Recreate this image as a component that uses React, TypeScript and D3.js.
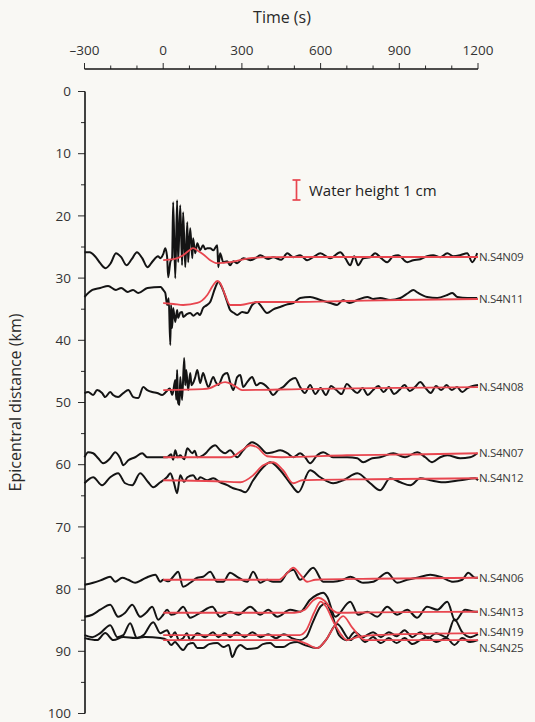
import React from 'react';
import * as d3 from 'd3';

// ---- data ----
const stations = ['N.S4N09', 'N.S4N11', 'N.S4N08', 'N.S4N07', 'N.S4N12', 'N.S4N06', 'N.S4N13', 'N.S4N19', 'N.S4N25'];
const distancesKm = [26.8, 34.0, 48.0, 58.8, 62.5, 78.5, 83.8, 87.4, 88.2];
const timeTickLabels = [-300, 0, 300, 600, 900, 1200];
const distanceTickLabels = [0, 10, 20, 30, 40, 50, 60, 70, 80, 90, 100];
const legendHeightMm = 10;

// observed water height [time s, mm]
const obsN09: [number, number][] = [[-300,3],[-280,3],[-260,1],[-240,-2.5],[-220,-5],[-200,-2.5],[-180,2.5],[-160,0.5],[-140,-3.5],[-120,-0.5],[-100,3],[-80,0],[-60,-4.5],[-40,-1.5],[-20,1],[-11,0],[0,2],[8,5],[15,0.5],[19,-9.5],[27,-2],[34,0],[38,28],[46,-10],[53,29],[57,-2],[65,26.5],[72,-3.5],[76,23],[84,-4.5],[92,18],[95,-2],[103,15],[111,0],[114,10],[122,2.5],[130,7.5],[141,4],[152,6.5],[160,4.5],[168,5],[179,5],[191,4],[206,6.5],[210,-4.5],[217,2.5],[229,-2],[244,-1.5],[255,-3.5],[267,-1.5],[282,-2.5],[305,0],[332,-1],[358,0.5],[370,1.5],[400,-0.4],[419,0.5],[450,-0.8],[473,2.5],[496,0.5],[522,1.5],[549,-1],[575,0.8],[599,2.5],[637,0],[675,3],[694,0],[713,-3.5],[728,1],[743,-3.5],[763,0],[789,0.5],[808,2.5],[831,0],[854,-2],[877,1],[896,1.5],[930,-2],[953,-1],[980,-0.5],[1006,1],[1029,1.5],[1056,0.5],[1083,2.5],[1106,1],[1132,1.5],[1159,2.5],[1178,-2],[1197,2.5]];
const obsN11: [number, number][] = [[-300,3],[-270,6.5],[-240,7.5],[-210,8.5],[-180,6.5],[-160,7.5],[-135,5.5],[-115,6.5],[-95,5],[-60,7.5],[-10,8],[0,6.5],[8,5],[15,-1],[21,2.4],[27,-21],[30,-1],[34,-12.5],[38,-2.5],[46,-9.5],[53,-3.5],[57,-7.5],[65,-4.8],[72,-4.5],[76,-7],[90,-5.6],[103,-5],[115,-6.4],[130,-5],[140,-6],[152,-2.5],[165,-1.2],[179,0.5],[198,7.5],[210,10.5],[225,7.5],[244,0.5],[255,-3.5],[270,-5],[282,-6],[301,-4.5],[320,-5],[339,-1],[358,0.5],[370,-1],[396,-5],[420,-3.2],[446,-2],[470,-0.8],[496,0],[522,2.5],[560,3],[599,1.5],[637,0],[663,-1],[686,1.5],[710,0],[740,1.5],[778,3],[800,2],[827,2.5],[865,1.5],[904,2.5],[934,5],[953,6.5],[972,5],[1006,3],[1045,2.5],[1083,4],[1102,5],[1121,3],[1159,2.5],[1197,2.5]];
const obsN08: [number, number][] = [[-300,-1.5],[-286,-1],[-267,-2.5],[-252,0],[-233,-1.5],[-221,-3.5],[-202,-1],[-191,-2.5],[-172,-3.5],[-152,-1.5],[-133,0],[-114,-3.5],[-95,-4],[-76,1.5],[-61,0],[-42,-1],[-23,-1.5],[-4,-2.5],[10,-1],[25,0.8],[35,-2.4],[46,5],[50,-4.8],[53,10],[57,-6.5],[62,-7.5],[65,6.5],[72,-5],[80,16],[84,2.4],[88,10],[95,0],[103,8.5],[108,2.4],[114,3.5],[122,6.4],[130,10],[141,3.5],[152,8.5],[162,4.8],[172,1.5],[191,6.5],[200,4],[210,2.5],[229,7.5],[244,8.5],[255,4],[267,0],[282,6.5],[294,7.5],[305,1.5],[320,4],[339,6.5],[355,2.4],[370,3.5],[400,1],[419,-2.5],[438,0],[457,1.5],[484,5],[503,6],[522,1.5],[540,-1.5],[560,2.5],[580,-2],[600,1],[620,-2.5],[640,2],[660,0],[680,-2],[700,3],[720,0.5],[740,-1.5],[760,1],[780,-2.5],[800,0],[820,2],[840,-1],[860,1.5],[880,-2],[900,0],[920,2.5],[940,-0.5],[960,1.5],[980,4],[1000,1],[1020,-1.5],[1040,2],[1060,0],[1080,2.5],[1100,0],[1120,1.5],[1140,-1],[1160,1],[1180,2],[1200,2.5]];
const obsN07: [number, number][] = [[-300,0],[-286,2.5],[-267,2],[-248,-0.5],[-229,-3],[-202,-0.5],[-183,2.5],[-164,-0.5],[-152,-4],[-133,-1.5],[-107,0],[-80,2],[-61,0],[-23,0],[0,0],[15,0],[30,1.5],[38,-1.2],[46,3.5],[55,0],[65,1],[80,-1],[92,4.5],[111,2],[120,3.2],[130,0],[152,1],[165,2.4],[179,4.5],[198,6],[217,3.5],[236,2],[255,3.5],[282,0],[305,3.5],[339,7.5],[362,6],[396,2],[419,2.5],[446,3.5],[473,2],[496,0],[522,2],[541,0],[560,-3],[587,1],[610,2.5],[648,0],[701,0],[740,-0.5],[762,-2.5],[797,-0.5],[827,0],[877,2],[922,0],[968,2.5],[999,0],[1025,-2.5],[1056,0],[1083,1],[1132,-0.5],[1170,0],[1197,2]];
const obsN12: [number, number][] = [[-300,-1.5],[-267,1.5],[-233,-2.5],[-202,1.5],[-172,3.5],[-145,-1.5],[-118,-2.5],[-88,3.5],[-57,-1],[-38,-3.5],[-11,-1],[0,0],[15,1.6],[27,3.5],[40,-0.8],[53,-6.5],[65,2.5],[80,-0.8],[92,1.5],[114,2.5],[130,0],[141,1.5],[168,0],[191,1],[217,-1],[244,-2.4],[267,-4],[294,-5],[313,-6],[343,0],[381,6.5],[408,9],[446,5],[484,-1.5],[515,-6],[560,5],[599,1.5],[648,-1.5],[686,0],[740,3.5],[789,-1.5],[827,-5],[865,1],[904,-1],[942,-2.5],[980,1],[1018,0],[1067,-1],[1132,0],[1189,1],[1200,0]];
const obsN06: [number, number][] = [[-300,-2.5],[-267,-1.5],[-233,0],[-202,1.5],[-183,-1],[-156,1],[-133,0],[-107,-1.5],[-80,0],[-57,1.5],[-30,2.5],[-11,-1],[0,0],[20,-0.8],[38,1.5],[57,4],[76,-3.5],[103,-1.5],[130,1],[152,1.5],[179,4],[206,-1],[229,-1],[255,3.5],[282,1.5],[320,-1],[343,4],[370,-1.5],[396,0],[419,-1],[446,-1],[473,3.5],[496,5],[522,0],[572,6],[610,-1],[648,-1],[686,0],[713,1.5],[762,-1.5],[801,-1],[854,3.5],[892,-1.5],[930,0],[968,1],[1018,2.5],[1056,1.5],[1106,-1],[1140,0],[1163,3.5],[1189,1],[1200,1]];
const obsN13: [number, number][] = [[-300,-2],[-270,-1],[-240,1.5],[-202,4],[-172,-2],[-145,0],[-118,4],[-88,-2],[-65,0],[-42,3],[-19,-3.5],[0,-1],[15,1.5],[30,-1],[53,0],[76,3],[103,-2.5],[141,0],[187,3],[217,-2],[255,0.5],[286,-1],[332,3],[370,-1],[400,1.5],[435,-2],[484,1.5],[522,0.5],[560,6.5],[587,9],[610,10],[625,8],[656,-2],[713,5.5],[743,-1],[778,0.5],[816,-2],[854,3],[892,-1],[930,1.5],[968,-2.5],[1006,3],[1045,1.5],[1083,5.5],[1113,-4],[1151,1.5],[1189,0.5],[1200,0.5]];
const obsN19: [number, number][] = [[-300,0],[-270,-1],[-240,1],[-202,5],[-175,-1],[-152,0],[-126,6],[-100,-1.5],[-75,0],[-38,6.5],[-11,1],[15,2.5],[30,-1],[45,1.5],[60,-2.5],[76,-1.5],[90,1],[103,-2.5],[130,1],[160,-1],[190,1.5],[210,-1],[235,1],[255,-1],[280,1.5],[310,-1],[340,1.5],[370,-1],[400,0.5],[430,-1.5],[460,0.5],[490,-1.5],[520,-2.5],[545,-1],[570,6.4],[600,14.4],[620,16],[645,9.6],[670,0],[700,-2.5],[730,1.6],[760,-1],[800,1.5],[830,-1],[860,1.5],[890,-0.5],[920,2.5],[950,-1],[980,1.5],[1010,-1.5],[1040,1],[1080,-1],[1110,8],[1140,1.5],[1170,-1],[1200,0.5]];
const obsN25: [number, number][] = [[-300,1],[-252,0],[-221,3.5],[-190,0],[-152,1.5],[-107,1],[-70,1.5],[-11,1],[15,0],[30,-2.5],[45,-1],[57,-2.5],[66,-4],[76,-5],[95,-2],[114,-1.5],[130,-4],[152,-4],[175,-2],[206,-1.5],[230,-3.5],[250,-2.4],[263,-8.5],[280,-4],[294,-2.5],[320,-4.5],[358,-4],[380,-2],[408,-1.5],[430,-3.5],[457,-3.5],[485,-1.5],[511,-1],[540,-2.5],[587,-4],[620,0],[663,8],[713,0],[740,2.4],[770,-1],[800,1.5],[830,-1.5],[860,1],[890,-1.5],[920,1],[950,-2],[980,0],[1010,1.5],[1040,-1],[1080,1],[1110,-2.4],[1140,1],[1170,-1],[1200,0]];

// modelled water height [time s, mm]
const simN09: [number, number][] = [[0,-1],[40,-0.5],[76,1.5],[100,4],[114,5],[135,3.5],[152,2],[179,-1],[206,-2.5],[255,-2],[332,0],[400,0.5],[600,0.6],[900,0.6],[1200,0.6]];
const simN11: [number, number][] = [[0,0],[40,-0.5],[76,-1],[130,0],[168,4],[191,9],[206,11],[217,10],[236,4],[255,-1],[295,-1],[358,0.5],[500,0.5],[700,1],[900,1.5],[1200,2]];
const simN08: [number, number][] = [[0,0],[150,0.5],[179,1],[210,3],[236,4],[267,2.5],[301,0],[522,0.5],[800,1],[1200,1.5]];
const simN07: [number, number][] = [[0,0],[255,0],[301,3.5],[332,6],[358,5],[396,0.5],[450,0],[700,1],[1000,1.5],[1200,2]];
const simN12: [number, number][] = [[0,0],[200,-0.5],[294,-1],[343,2.5],[381,7.5],[419,9],[457,5],[496,-1.5],[530,0],[800,0.5],[1200,1]];
const simN06: [number, number][] = [[0,0],[440,0],[470,3],[496,6],[520,3],[549,-1],[580,0],[800,0.5],[1200,1]];
const simN13: [number, number][] = [[0,0],[500,0],[540,1.5],[570,6],[591,7.5],[615,6],[640,2],[665,0],[800,0.2],[1200,0.5]];
const simN19: [number, number][] = [[0,0],[520,0],[545,2.4],[575,11.2],[600,16.8],[620,14.4],[650,6.4],[680,0],[700,-2.5],[740,-1],[800,0],[1200,1]];
const simN25: [number, number][] = [[0,0],[500,0],[540,-1.5],[587,-4],[620,0],[650,6.4],[686,12],[720,6.4],[770,0],[1200,0]];

const observed = [obsN09, obsN11, obsN08, obsN07, obsN12, obsN06, obsN13, obsN19, obsN25];
const simulated = [simN09, simN11, simN08, simN07, simN12, simN06, simN13, simN19, simN25];

// ---- styles ----
const FONT = "'Open Sans', 'Noto Sans', sans-serif";
const RED = '#e8464f';
const INK = '#141414';
const labelNudge: Record<string, number> = { 'N.S4N19': -1.5, 'N.S4N25': 8 };

export default function App() {
  const W = 535, H = 722;
  const x = d3.scaleLinear().domain([-300, 1200]).range([84.5, 478]);
  const y = d3.scaleLinear().domain([0, 100]).range([91.5, 713.5]);
  const amp = d3.scaleLinear().domain([0, 10]).range([0, 20]);

  const lineFor = (dist: number) =>
    d3.line<[number, number]>()
      .x(d => x(d[0]))
      .y(d => y(dist) - amp(d[1]))
      .curve(d3.curveMonotoneX);

  const minorTimeTicks = d3.range(-300, 1201, 100);
  const minorDistTicks = d3.range(0, 101, 5);
  const axisY = 69;
  const axisX = 85;
  const legY = 190;
  const half = amp(legendHeightMm) / 2;

  return (
    <svg width={W} height={H} style={{ position: 'absolute', left: 0, top: 0, background: '#f9f8f4' }}
      fontFamily={FONT}>
      <rect x={0} y={0} width={W} height={H} fill="#f9f8f4" />
      {/* top axis */}
      <text x={282} y={23} textAnchor="middle" fontSize={16} fill="#2a2a2a">Time (s)</text>
      <line x1={x(-300)} x2={x(1200)} y1={axisY} y2={axisY} stroke={INK} strokeWidth={1.6} />
      {minorTimeTicks.map(t => (
        <line key={'tt' + t} x1={x(t)} x2={x(t)} y1={axisY} y2={axisY - (t % 300 === 0 ? 6 : 3.5)} stroke={INK} strokeWidth={0.9} />
      ))}
      {timeTickLabels.map(t => (
        <text key={'tl' + t} x={x(t)} y={55} textAnchor="middle" fontSize={13.5} fill="#333">
          {t < 0 ? '\u2013' + Math.abs(t) : String(t)}
        </text>
      ))}

      {/* left axis */}
      <line x1={axisX} x2={axisX} y1={y(0)} y2={y(100)} stroke={INK} strokeWidth={1.6} />
      {minorDistTicks.map(d => (
        <line key={'dt' + d} x1={axisX} x2={axisX - (d % 10 === 0 ? 7 : 4)} y1={y(d)} y2={y(d)} stroke={INK} strokeWidth={0.9} />
      ))}
      {distanceTickLabels.map(d => (
        <text key={'dl' + d} x={71} y={y(d)} dy="0.35em" textAnchor="end" fontSize={13.5} fill="#333">{d}</text>
      ))}
      <text transform={`translate(21,${(y(0) + y(100)) / 2}) rotate(-90)`} textAnchor="middle" fontSize={16} fill="#2a2a2a">
        Epicentral distance (km)
      </text>

      {/* legend */}
      <g stroke={RED} strokeWidth={1.7}>
        <line x1={296.5} x2={296.5} y1={legY - half} y2={legY + half} />
        <line x1={292.5} x2={300.5} y1={legY - half} y2={legY - half} />
        <line x1={292.5} x2={300.5} y1={legY + half} y2={legY + half} />
      </g>
      <text x={309} y={legY + 1} dy="0.35em" fontSize={15} fill="#222">Water height 1 cm</text>

      {/* observed traces */}
      {observed.map((series, i) => (
        <path key={'o' + i} d={lineFor(distancesKm[i])(series) || ''} fill="none" stroke={INK} strokeWidth={2} strokeLinejoin="round" />
      ))}
      {/* simulated traces */}
      {simulated.map((series, i) => (
        <path key={'s' + i} d={lineFor(distancesKm[i])(series) || ''} fill="none" stroke={RED} strokeWidth={1.8} strokeLinejoin="round" />
      ))}
      {/* station labels */}
      {stations.map((name, i) => {
        const last = simulated[i][simulated[i].length - 1];
        return (
          <text key={'lab' + i} x={x(1200) + 1} y={y(distancesKm[i]) - amp(last[1]) + (labelNudge[name] || 0)} dy="0.35em"
            fontSize={11.5} fill="#3a3a3a" letterSpacing={-0.3}>{name}</text>
        );
      })}
    </svg>
  );
}
